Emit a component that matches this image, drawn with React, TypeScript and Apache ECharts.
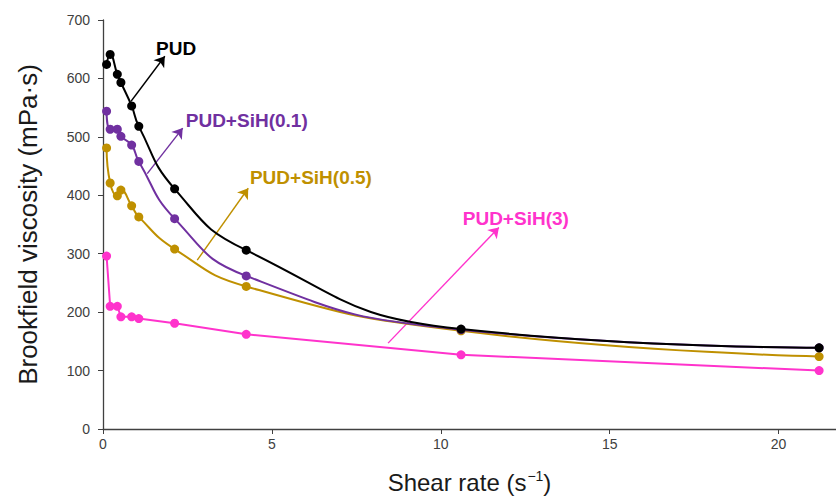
import React, { useEffect, useRef } from "react";
import * as echarts from "echarts";

const shearRate = [0.106, 0.212, 0.424, 0.53, 0.848, 1.06, 2.12, 4.24, 10.6, 21.2];
const pud = [624, 641, 607, 593, 553, 518, 411, 306, 171, 139];
const pudSiH01 = [544, 513, 513, 501, 486, 458, 360, 262, 170, 139];
const pudSiH05 = [481, 421, 399, 409, 382, 363, 308, 244, 168, 124];
const pudSiH3 = [296, 210, 210, 192, 192, 189, 181, 162, 127, 100];

const xTicks = [0, 5, 10, 15, 20];
const seriesNames = ["PUD", "PUD+SiH(0.1)", "PUD+SiH(0.5)", "PUD+SiH(3)"];
const colors = ["#000000", "#7030A0", "#BF9000", "#FF33CC"];
// annotation arrows in data space: [x0, y0, x1, y1]
const arrows = [
  [0.83, 561, 1.83, 638],
  [1.31, 437, 2.36, 515],
  [2.79, 289, 4.3, 412],
  [8.44, 147, 11.72, 345],
];
// annotation label anchors (data space, left-middle)
const labelPos = [
  [1.57, 652],
  [2.45, 528],
  [4.35, 431],
  [10.65, 360],
];

export default function App() {
  const ref = useRef<HTMLDivElement>(null);
  useEffect(() => {
    if (!ref.current) return;
    const chart = echarts.init(ref.current, null, { renderer: "svg" });
    const allData = [pud, pudSiH01, pudSiH05, pudSiH3];
    const order = [3, 2, 1, 0];
    const series: any[] = order.map((i) => ({
      name: seriesNames[i],
      type: "line",
      data: shearRate.map((x, k) => [x, allData[i][k]]),
      smooth: i === 3 ? false : 0.5,
      symbol: "circle",
      symbolSize: 9,
      showAllSymbol: true,
      z: 10 - i,
      lineStyle: { color: colors[i], width: 2 },
      itemStyle: { color: colors[i] },
      markLine: {
        silent: true,
        symbol: ["none", "arrow"],
        symbolSize: 10,
        label: { show: false },
        lineStyle: { color: colors[i], width: 1.4, type: "solid" },
        itemStyle: { color: colors[i] },
        data: [
          [
            { coord: [arrows[i][0], arrows[i][1]], symbol: "none" },
            { coord: [arrows[i][2], arrows[i][3]], symbol: "arrow", symbolSize: 10 },
          ],
        ],
      },
      markPoint: {
        silent: true,
        symbol: "circle",
        symbolSize: 0,
        label: {
          show: true,
          position: "right",
          distance: 0,
          formatter: seriesNames[i],
          color: colors[i],
          fontFamily: "Liberation Sans, Arial, sans-serif",
          fontWeight: "bold",
          fontSize: 19,
        },
        data: [{ coord: [labelPos[i][0], labelPos[i][1]] }],
      },
    }));
    chart.setOption({
      animation: false,
      backgroundColor: "#ffffff",
      textStyle: { fontFamily: "Liberation Sans, Arial, sans-serif" },
      grid: { left: 103, right: 0, top: 20, bottom: 70, containLabel: false },
      xAxis: {
        type: "value",
        min: 0,
        max: 21.7,
        interval: 5,
        name: "{n|Shear rate (s}{sup|\u22121}{n|)}",
        nameLocation: "middle",
        nameGap: 40,
        nameTextStyle: {
          rich: {
            n: { fontSize: 24, color: "#1a1a1a", fontFamily: "Liberation Sans, Arial, sans-serif" },
            sup: {
              fontSize: 14,
              color: "#1a1a1a",
              verticalAlign: "top",
              padding: [0, 0, 12, 1],
              fontFamily: "Liberation Sans, Arial, sans-serif",
            },
          },
        },
        axisLine: { lineStyle: { color: "#404040", width: 1.3 } },
        axisTick: { show: true, length: 5, customValues: xTicks, lineStyle: { color: "#404040" } },
        axisLabel: {
          customValues: xTicks,
          color: "#404040",
          fontSize: 14,
          margin: 8,
        },
        splitLine: { show: false },
      },
      yAxis: {
        type: "value",
        min: 0,
        max: 700,
        interval: 100,
        name: "Brookfield viscosity (mPa\u00b7s)",
        nameLocation: "middle",
        nameGap: 62,
        nameTextStyle: { fontSize: 26, color: "#1a1a1a" },
        axisLine: { show: true, lineStyle: { color: "#404040", width: 1.3 } },
        axisTick: { show: true, length: 5, lineStyle: { color: "#404040" } },
        axisLabel: { color: "#404040", fontSize: 14, margin: 13 },
        splitLine: { show: false },
      },
      series,
    });
    return () => chart.dispose();
  }, []);
  return (
    <div
      ref={ref}
      style={{ position: "fixed", left: 0, top: 0, width: 836, height: 499, background: "#fff" }}
    />
  );
}
